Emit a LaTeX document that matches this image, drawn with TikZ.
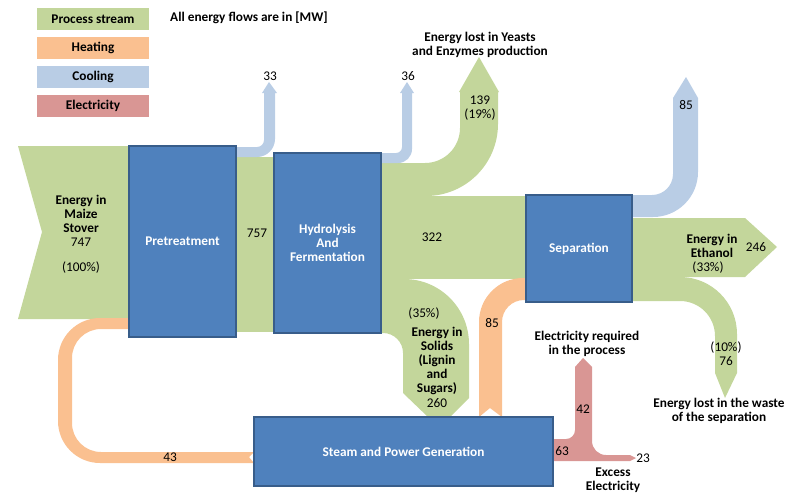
\documentclass[tikz,border=0pt]{standalone}
\usepackage{fontspec}
\usepackage{tikz}
\usepackage{xcolor}
\setmainfont{Carlito}
\newcommand{\chartfont}{\fontsize{13.3}{13.9}\selectfont}
\definecolor{stream}{HTML}{C3D69B}
\definecolor{heat}{HTML}{FAC090}
\definecolor{cool}{HTML}{B9CDE5}
\definecolor{elec}{HTML}{D99694}
\definecolor{boxfill}{HTML}{4F81BD}
\definecolor{boxline}{HTML}{385D8A}
\tikzstyle{process} = [rectangle, draw=boxline, fill=boxfill, line width=1.2pt, text=white, font=\chartfont\bfseries, align=center, inner sep=0pt]
\tikzstyle{legbox} = [rectangle, minimum width=112pt, minimum height=22pt, font=\chartfont\bfseries, inner sep=0pt]
\tikzstyle{lbl} = [font=\chartfont\bfseries, align=center, inner sep=0pt]
\tikzstyle{num} = [font=\chartfont, align=center, inner sep=0pt]

\begin{document}
\begin{tikzpicture}[x=1pt,y=-1pt,node distance=29pt]
  \useasboundingbox (0,0) rectangle (803,493);

  % legend
  \node[legbox,fill=stream] (L_stream) at (93,19) {Process stream};
  \node[legbox,fill=heat] (L_heat) [below of=L_stream] {Heating};
  \node[legbox,fill=cool] (L_cool) [below of=L_heat] {Cooling};
  \node[legbox,fill=elec] (L_elec) [below of=L_cool] {Electricity};
  \node[lbl,anchor=west] (units) at (170,18) {All energy flows are in [MW]};

  % process stream
  \fill[stream] (18,146) -- (140,146) -- (140,319) -- (18,319) -- (42,232) -- cycle;
  \fill[stream] (230,157) rectangle (280,332);
  \fill[stream] (375,163) [rounded corners=35pt] -- (460,163) [sharp corners] -- (460,92) -- (459,92) -- (479,57) -- (499,92) -- (498,92) [rounded corners=72pt] -- (498,196) [sharp corners] -- (375,196) -- cycle;
  \fill[stream] (375,196) rectangle (532,279);
  \fill[stream] (375,279) [rounded corners=65pt] -- (469,279) [sharp corners] -- (469,398) -- (450,417) -- (428,417) -- (403,393) [rounded corners=20pt] -- (403,333) [sharp corners] -- (375,333) -- cycle;
  \fill[stream] (626,218) -- (745,218) -- (777,247) -- (745,277) -- (626,277) -- cycle;
  \fill[stream] (626,277) [rounded corners=57pt] -- (737,277) [sharp corners] -- (737,373) -- (725,398) -- (715,373) [rounded corners=35pt] -- (715,301) [sharp corners] -- (626,301) -- cycle;

  % cooling
  \fill[cool] (230,147) [rounded corners=7pt] -- (264,147) [sharp corners] -- (264,93) -- (262,93) -- (269,82) -- (277,93) -- (275,93) [rounded corners=18pt] -- (275,157) [sharp corners] -- (230,157) -- cycle;
  \fill[cool] (375,153) [rounded corners=6pt] -- (402,153) [sharp corners] -- (402,93) -- (400,93) -- (407,82) -- (414,93) -- (412,93) [rounded corners=14pt] -- (412,163) [sharp corners] -- (375,163) -- cycle;
  \fill[cool] (626,195) [rounded corners=21pt] -- (673,195) [sharp corners] -- (673,98) -- (686,77) -- (698,98) [rounded corners=45pt] -- (698,217) [sharp corners] -- (626,217) -- cycle;

  % heating
  \fill[heat] (479,417) -- (490,408) -- (502,417) [rounded corners=22pt] -- (502,300) [sharp corners] -- (532,300) -- (532,278) [rounded corners=44pt] -- (479,278) [sharp corners] -- cycle;
  \fill[heat] (135,318) [rounded corners=42pt] -- (58,318) -- (58,463) [sharp corners] -- (254,463) -- (249,457) -- (254,452) [rounded corners=29pt] -- (72,452) -- (72,329) [sharp corners] -- (135,329) -- cycle;

  % electricity
  \fill[elec] (548,439) [rounded corners=9pt] -- (575,439) [sharp corners] -- (575,367) -- (583,358) -- (592,367) [rounded corners=14pt] -- (592,455) [sharp corners] -- (630,455) -- (636,458) -- (630,461) -- (548,461) -- cycle;

  % processes
  \node[process,minimum width=107pt,minimum height=191pt] (pre) at (182.5,241.5) {Pretreatment};
  \node[process,minimum width=107pt,minimum height=180pt] (hyd) at (327.5,243) {Hydrolysis\\And\\Fermentation};
  \node[process,minimum width=106pt,minimum height=107pt] (sep) at (579,248.5) {Separation};
  \node[process,minimum width=299pt,minimum height=69pt] (steam) at (403.5,451.5) {Steam and Power Generation};

  % labels
  \node[lbl] (maize) at (81,214) {Energy in\\Maize\\Stover};
  \node[num] (in747) at (81,242) {747};
  \node[num] (in100) at (81,268) {(100\%)};
  \node[num] (c33) at (270,76) {33};
  \node[num] (c36) at (408,76) {36};
  \node[num] (f757) at (257,233) {757};
  \node[num] (f322) at (432,237) {322};
  \node[lbl] (yeast) at (480,45) {Energy lost in Yeasts\\and Enzymes production};
  \node[num] (f139) at (480,108) {139\\(19\%)};
  \node[num] (c85) at (686,105) {85};
  \node[num] (s35) at (424,314) {(35\%)};
  \node[lbl] (solids) at (437,361) {Energy in\\Solids\\(Lignin\\and\\Sugars)};
  \node[num] (s260) at (437,403) {260};
  \node[num] (h85) at (492,323) {85};
  \node[lbl] (eth) at (712,246) {Energy in\\Ethanol};
  \node[num] (e246) at (756,247) {246};
  \node[num] (e33) at (708,268) {(33\%)};
  \node[num] (w76) at (726,354) {(10\%)\\76};
  \node[lbl] (waste) at (719,411) {Energy lost in the waste\\of the separation};
  \node[lbl] (required) at (587,344) {Electricity required\\in the process};
  \node[num] (e42) at (583,409) {42};
  \node[num] (e63) at (562,451) {63};
  \node[num] (e23) at (643,458) {23};
  \node[lbl] (excess) at (613,480) {Excess\\Electricity};
  \node[num] (h43) at (170,457) {43};
\end{tikzpicture}
\end{document}
